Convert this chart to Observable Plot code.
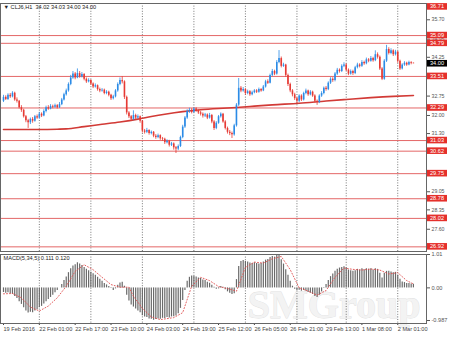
<!DOCTYPE html>
<html><head><meta charset="utf-8">
<script src="https://cdn.jsdelivr.net/npm/d3@7"></script>
<script src="https://cdn.jsdelivr.net/npm/@observablehq/plot@0.6"></script>
<style>
html,body{margin:0;padding:0;background:#fff;}
#chart{width:450px;height:338px;overflow:hidden;}
#chart svg{display:block;}
</style></head><body><div id="chart"></div>
<script>
// ---- data (H1 bars, index 0 = 19 Feb 2016) ----
const opens = [32.55,32.70,32.62,32.78,32.72,32.86,32.60,32.55,32.30,32.20,
31.95,31.80,31.72,31.85,31.78,31.95,31.90,32.05,31.98,32.15,
32.30,32.25,32.35,32.32,32.38,32.30,32.42,32.60,32.80,32.95,
33.20,33.45,33.60,33.45,33.62,33.50,33.58,33.40,33.30,33.35,
33.22,33.10,33.15,33.00,32.95,32.98,32.85,32.90,32.78,32.65,
32.72,32.95,33.20,33.35,33.30,32.70,32.10,31.95,31.85,32.00,
31.90,31.95,31.78,31.40,31.35,31.42,31.30,31.35,31.20,31.15,
31.22,31.10,31.08,30.95,31.00,30.85,30.90,30.75,30.70,30.80,
31.15,31.55,31.90,32.15,32.20,32.12,32.25,32.18,32.10,32.05,
31.98,32.02,31.90,32.00,31.75,31.50,31.70,31.95,32.05,31.75,
31.50,31.35,31.30,31.25,31.60,32.40,33.05,32.95,33.00,32.85,
32.92,32.80,32.88,32.95,32.90,33.00,32.95,33.10,33.30,33.25,
33.55,33.70,33.60,34.05,34.20,33.90,33.95,33.55,33.20,32.95,
32.80,32.65,32.55,32.75,32.60,32.85,32.95,32.80,32.90,32.75,
32.55,32.50,32.75,32.85,33.05,33.00,33.25,33.40,33.35,33.60,
33.75,33.70,33.90,33.95,33.75,33.60,33.70,33.62,33.85,33.95,
33.90,34.05,34.00,34.15,34.10,34.20,34.12,34.35,34.25,33.80,
33.40,34.10,34.55,34.40,34.50,34.35,34.45,34.10,33.80,33.95,
34.02,33.95,34.05,34.02];
const closes = [32.70,32.62,32.78,32.72,32.86,32.60,32.55,32.30,32.20,31.95,
31.80,31.72,31.85,31.78,31.95,31.90,32.05,31.98,32.15,32.30,
32.25,32.35,32.32,32.38,32.30,32.42,32.60,32.80,32.95,33.20,
33.45,33.60,33.45,33.62,33.50,33.58,33.40,33.30,33.35,33.22,
33.10,33.15,33.00,32.95,32.98,32.85,32.90,32.78,32.65,32.72,
32.95,33.20,33.35,33.30,32.70,32.10,31.95,31.85,32.00,31.90,
31.95,31.78,31.40,31.35,31.42,31.30,31.35,31.20,31.15,31.22,
31.10,31.08,30.95,31.00,30.85,30.90,30.75,30.70,30.80,31.15,
31.55,31.90,32.15,32.20,32.12,32.25,32.18,32.10,32.05,31.98,
32.02,31.90,32.00,31.75,31.50,31.70,31.95,32.05,31.75,31.50,
31.35,31.30,31.25,31.60,32.40,33.05,32.95,33.00,32.85,32.92,
32.80,32.88,32.95,32.90,33.00,32.95,33.10,33.30,33.25,33.55,
33.70,33.60,34.05,34.20,33.90,33.95,33.55,33.20,32.95,32.80,
32.65,32.55,32.75,32.60,32.85,32.95,32.80,32.90,32.75,32.55,
32.50,32.75,32.85,33.05,33.00,33.25,33.40,33.35,33.60,33.75,
33.70,33.90,33.95,33.75,33.60,33.70,33.62,33.85,33.95,33.90,
34.05,34.00,34.15,34.10,34.20,34.12,34.35,34.25,33.80,33.40,
34.10,34.55,34.40,34.50,34.35,34.45,34.10,33.80,33.95,34.02,
33.95,34.05,34.02,34.00];
const highs = [32.78,32.76,32.84,32.85,32.92,32.90,32.68,32.58,32.38,32.24,
32.00,31.85,31.90,31.92,32.00,32.02,32.12,32.10,32.22,32.36,
32.38,32.42,32.40,32.44,32.42,32.50,32.66,32.86,33.02,33.26,
33.55,33.70,33.66,33.80,33.70,33.66,33.62,33.45,33.42,33.38,
33.26,33.22,33.18,33.06,33.04,33.02,32.96,32.94,32.82,32.78,
33.00,33.26,33.45,33.50,33.34,32.75,32.15,32.00,32.18,32.05,
32.02,31.98,31.80,31.46,31.50,31.45,31.40,31.38,31.26,31.28,
31.25,31.15,31.12,31.06,31.04,30.96,30.94,30.80,30.86,31.20,
31.62,31.96,32.22,32.28,32.26,32.30,32.30,32.22,32.16,32.10,
32.08,32.06,32.08,32.04,31.80,31.76,32.00,32.10,32.08,31.80,
31.55,31.42,31.36,31.66,32.46,33.43,33.12,33.08,33.04,32.98,
32.96,32.94,33.00,33.00,33.06,33.04,33.16,33.36,33.38,33.60,
33.78,33.75,34.12,34.51,34.26,34.02,33.98,33.60,33.25,33.00,
32.86,32.70,32.80,32.80,32.90,33.02,32.98,32.96,32.94,32.80,
32.60,32.80,32.92,33.10,33.12,33.30,33.46,33.46,33.66,33.82,
33.80,33.96,34.04,34.00,33.80,33.76,33.75,33.90,34.02,34.00,
34.12,34.10,34.22,34.20,34.28,34.25,34.50,34.42,34.30,33.85,
34.16,34.71,34.62,34.58,34.54,34.52,34.48,34.14,34.00,34.08,
34.06,34.10,34.08,34.03];
const lows = [32.50,32.58,32.58,32.66,32.68,32.55,32.48,32.25,32.12,31.90,
31.72,31.50,31.65,31.70,31.74,31.85,31.86,31.92,31.95,32.10,
32.20,32.22,32.26,32.28,32.25,32.27,32.38,32.56,32.75,32.90,
33.15,33.40,33.38,33.42,33.44,33.45,33.34,33.24,33.26,33.16,
33.04,33.06,32.94,32.88,32.90,32.80,32.80,32.72,32.58,32.60,
32.68,32.90,33.15,33.22,32.62,32.02,31.88,31.78,31.80,31.84,
31.86,31.70,31.32,31.28,31.30,31.24,31.25,31.14,31.08,31.10,
31.04,31.00,30.88,30.90,30.78,30.80,30.66,30.53,30.64,30.76,
31.10,31.50,31.85,32.08,32.06,32.08,32.12,32.04,31.98,31.90,
31.92,31.84,31.86,31.68,31.42,31.45,31.66,31.90,31.70,31.44,
31.28,31.22,31.11,31.20,31.55,32.35,32.88,32.90,32.78,32.80,
32.74,32.76,32.84,32.85,32.86,32.90,32.92,33.06,33.20,33.22,
33.50,33.54,33.56,34.00,33.84,33.86,33.48,33.12,32.88,32.72,
32.58,32.46,32.50,32.54,32.56,32.80,32.74,32.76,32.70,32.48,
32.39,32.46,32.70,32.80,32.94,32.96,33.20,33.28,33.30,33.55,
33.64,33.66,33.85,33.70,33.54,33.56,33.55,33.58,33.80,33.84,
33.86,33.94,33.96,34.04,34.06,34.06,34.08,34.18,33.74,33.35,
33.36,34.05,34.34,34.35,34.28,34.30,34.02,33.74,33.76,33.90,
33.90,33.92,33.96,34.00];

// moving average (red line) read at selected bars
const maIdx  = [0,8,16,24,28,36,44,52,60,66,72,80,88,96,104,112,120,132,144,153,164,174,183];
const maVals = [31.46,31.46,31.46,31.47,31.48,31.57,31.66,31.75,31.86,31.96,32.05,32.15,32.22,32.27,32.31,32.36,32.41,32.47,32.56,32.62,32.69,32.74,32.77];

// horizontal levels (red labels) and current price
const levels = [36.71,35.09,34.79,33.51,32.29,31.03,30.62,29.75,28.78,28.02,26.92];
const currentPrice = 34.00;
const priceTicks = [35.70,34.95,34.25,32.75,32.00,31.30,29.05,28.35,27.60];

// MACD histogram and signal
const macd = [-0.14,-0.16,-0.15,-0.18,-0.20,-0.26,-0.32,-0.42,-0.50,-0.60,
-0.70,-0.76,-0.74,-0.75,-0.70,-0.66,-0.60,-0.56,-0.49,-0.42,
-0.35,-0.29,-0.22,-0.15,-0.08,0.00,0.10,0.22,0.33,0.46,
0.58,0.66,0.70,0.76,0.72,0.68,0.62,0.56,0.52,0.47,
0.43,0.38,0.32,0.26,0.20,0.13,0.09,0.04,-0.02,-0.08,
-0.03,0.08,0.15,0.17,0.05,-0.22,-0.40,-0.52,-0.58,-0.64,
-0.70,-0.75,-0.84,-0.88,-0.90,-0.94,-0.95,-0.98,-0.96,-0.94,
-0.95,-0.92,-0.93,-0.90,-0.91,-0.88,-0.87,-0.85,-0.78,-0.62,
-0.38,-0.08,0.20,0.32,0.36,0.35,0.33,0.30,0.28,0.24,
0.22,0.17,0.14,0.08,0.02,-0.04,-0.03,0.04,0.02,-0.06,
-0.12,-0.16,-0.20,-0.18,0.25,0.65,0.80,0.83,0.80,0.78,
0.75,0.74,0.76,0.74,0.72,0.74,0.78,0.84,0.86,0.92,
0.95,0.93,1.00,0.98,0.85,0.72,0.55,0.38,0.20,0.05,
-0.04,-0.08,-0.07,-0.10,-0.08,-0.10,-0.14,-0.16,-0.20,-0.26,
-0.29,-0.22,-0.12,-0.02,0.10,0.22,0.34,0.42,0.50,0.56,
0.60,0.62,0.64,0.60,0.54,0.52,0.50,0.52,0.56,0.54,
0.58,0.55,0.58,0.56,0.58,0.54,0.58,0.56,0.44,0.30,
0.44,0.50,0.50,0.48,0.46,0.47,0.38,0.26,0.18,0.16,
0.13,0.13,0.12,0.11];
const sigIdx  = [0,4,8,12,16,20,24,28,32,36,40,44,48,52,56,58,62,66,70,76,80,84,88,92,96,100,104,108,112,116,120,124,128,132,136,140,144,148,152,156,160,164,168,172,176,180,183];
const sigVals = [-0.18,-0.17,-0.30,-0.58,-0.70,-0.55,-0.30,0.05,0.50,0.70,0.55,0.32,0.10,0.02,0.02,-0.25,-0.62,-0.88,-0.96,-0.90,-0.75,0.05,0.32,0.22,0.04,-0.02,-0.10,0.62,0.78,0.75,0.88,0.95,0.55,0.00,-0.10,-0.22,-0.08,0.32,0.60,0.56,0.54,0.57,0.54,0.42,0.46,0.22,0.12];
const macdTicks = [1.01, 0, -0.987];
const macdTickLabels = ["1.01", "0.00", "-0.987"];

// time axis
const xTickIdx = [0,16,32,48,64,80,96,112,128,144,160,176];
const xTickLabels = ["19 Feb 2016","22 Feb 01:00","22 Feb 17:00","23 Feb 10:00","24 Feb 03:00","24 Feb 19:00","25 Feb 12:00","26 Feb 05:00","26 Feb 21:00","29 Feb 13:00","1 Mar 08:00","2 Mar 01:00"];
const gridIdx = [16,39,62,85,108,131,153,176];

const titleText = "▼ CLJ6,H1  34.02 34.03 34.00 34.00";
const macdTitle = "MACD(5,34,5) 0.111 0.120";
const watermark = "SMGroup";

// ---- drawing ----
const FONT = "Liberation Sans, Arial, sans-serif";
const BLUE = "#2b8be6", RED = "#e63a34", LEVEL = "#e46767", BOXRED = "#e5302b";
const XDOM = [-1.34, 188.84];

const bars = closes.map((c, i) => ({i, o: opens[i], h: highs[i], l: lows[i], c, col: c >= opens[i] ? BLUE : RED}));

function labelBoxes(values, fill) {
  return (index, scales, vals, dims) => {
    const g = d3.create("svg:g");
    const x0 = dims.width - dims.marginRight + 1;
    for (const v of values) {
      let y = scales.y(v);
      y = Math.max(dims.marginTop + 3.4, Math.min(dims.height - dims.marginBottom - 3.4, y));
      g.append("rect").attr("x", x0).attr("y", y - 3.3).attr("width", 20).attr("height", 6.6).attr("fill", fill);
      g.append("text").attr("x", x0 + 10).attr("y", y).attr("dy", "0.36em")
        .attr("text-anchor", "middle").attr("fill", "#fff").attr("font-size", 5.6)
        .attr("font-family", FONT).text(v.toFixed(2));
    }
    return g.node();
  };
}

const mainPlot = Plot.plot({
  width: 450, height: 252,
  marginLeft: 0, marginRight: 24, marginTop: 3, marginBottom: 1,
  style: {fontFamily: FONT, fontSize: "5.6px", background: "#fff"},
  x: {domain: XDOM, axis: null},
  y: {domain: [26.74, 36.33], clamp: true, axis: null},
  marks: [
    Plot.ruleX(gridIdx, {stroke: "#555", strokeDasharray: "1,1.6", strokeWidth: 0.8}),
    Plot.ruleY(levels, {stroke: LEVEL, strokeWidth: 1}),
    Plot.line(maVals, {x: maIdx, y: maVals, stroke: "#d23a36", strokeWidth: 1.6, curve: "monotone-x"}),
    Plot.ruleX(bars, {x: "i", y1: "l", y2: "h", stroke: "col", strokeWidth: 0.8}),
    Plot.ruleX(bars, {x: "i", y1: "o", y2: "c", stroke: "col", strokeWidth: 1.6}),
    Plot.axisY({anchor: "right", ticks: priceTicks, tickFormat: d => d.toFixed(2), tickSize: 3, tickPadding: 2, fontSize: 5.2, color: "#555", label: null}),
    labelBoxes(levels, BOXRED),
    labelBoxes([currentPrice], "#000"),
    Plot.frame({stroke: "#666"}),
    Plot.text([titleText], {frameAnchor: "top-left", dx: 3, dy: 2, lineAnchor: "top", fontSize: 5.6, fill: "#222"})
  ]
});

const macdLabelMap = new Map(macdTicks.map((t, k) => [t, macdTickLabels[k]]));
const xLabelMap = new Map(xTickIdx.map((t, k) => [t, xTickLabels[k]]));

const macdPlot = Plot.plot({
  width: 450, height: 86,
  marginLeft: 0, marginRight: 24, marginTop: 2, marginBottom: 15,
  style: {fontFamily: FONT, fontSize: "5.6px", background: "#fff"},
  x: {domain: XDOM, axis: null},
  y: {domain: [-1.078, 1.01], axis: null},
  marks: [
    Plot.text([watermark], {frameAnchor: "bottom-right", dx: -6, dy: -6, lineAnchor: "bottom", textAnchor: "end",
      fontSize: 40, fontFamily: "Liberation Serif, serif", fontWeight: "bold", fill: "#f3f3f3", stroke: "#e0e0e0", strokeWidth: 0.8}),
    Plot.ruleX(gridIdx, {stroke: "#555", strokeDasharray: "1,1.6", strokeWidth: 0.8}),
    Plot.ruleX(macd, {x: (d, i) => i, y1: d => 0, y2: d => d, stroke: "#6a6a6a", strokeWidth: 1.2}),
    Plot.line(sigVals, {x: sigIdx, y: sigVals, stroke: "#e05050", strokeWidth: 0.9, strokeDasharray: "1,2"}),
    Plot.axisY({anchor: "right", ticks: macdTicks, tickFormat: d => macdLabelMap.get(d), tickSize: 3, tickPadding: 2, fontSize: 5.6, color: "#555", label: null}),
    Plot.axisX({anchor: "bottom", ticks: xTickIdx, tickFormat: d => xLabelMap.get(d), textAnchor: "start", tickSize: 2, tickPadding: 2, fontSize: 5.6, color: "#444", label: null}),
    Plot.frame({stroke: "#666"}),
    Plot.text([macdTitle], {frameAnchor: "top-left", dx: 3, dy: 2, lineAnchor: "top", fontSize: 5.6, fill: "#222"})
  ]
});

const root = document.getElementById("chart");
root.append(mainPlot, macdPlot);
</script></body></html>
